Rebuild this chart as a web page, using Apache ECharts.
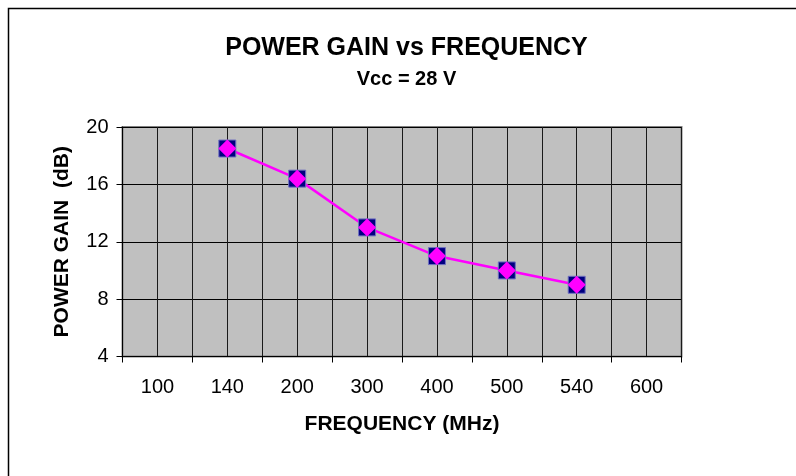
<!DOCTYPE html>
<html>
<head>
<meta charset="utf-8">
<script src="https://cdn.jsdelivr.net/npm/echarts@6/dist/echarts.min.js"></script>
<style>html,body{margin:0;padding:0;background:#fff}#c{width:796px;height:476px}</style>
</head>
<body>
<div id="c"></div>
<script>
const categories = ['100', '140', '200', '300', '400', '500', '540', '600'];
const gainValues = [null, 18.5, 16.4, 13, 11, 10, 9, null];
const yTicks = [4, 8, 12, 16, 20];
const titleText = 'POWER GAIN vs FREQUENCY';
const subtitleText = 'Vcc = 28 V';
const xName = 'FREQUENCY (MHz)';
const yName = 'POWER GAIN  (dB)';

const FONT = '"Liberation Sans", Arial, sans-serif';
const chart = echarts.init(document.getElementById('c'), null, {renderer: 'canvas'});
chart.setOption({
  animation: false,
  backgroundColor: '#ffffff',
  graphic: [
    {type: 'rect', shape: {x: 8.5, y: 8.5, width: 800, height: 480}, style: {fill: 'none', stroke: '#000', lineWidth: 1.5}, silent: true},
    {type: 'text', style: {x: 406.5, y: 48, text: titleText, textAlign: 'center', textVerticalAlign: 'middle', font: 'bold 25px ' + FONT, fill: '#000'}},
    {type: 'text', style: {x: 406.5, y: 79, text: subtitleText, textAlign: 'center', textVerticalAlign: 'middle', font: 'bold 20px ' + FONT, fill: '#000'}}
  ],
  grid: {
    left: 122.5, top: 127, right: 114.5, bottom: 119.5,
    show: true, backgroundColor: '#C0C0C0', borderColor: '#808080', borderWidth: 2
  },
  xAxis: [
    {
      type: 'category', data: categories, boundaryGap: true, position: 'bottom',
      axisLine: {show: true, lineStyle: {color: '#000', width: 1}},
      axisTick: {show: true, length: 6, inside: false, lineStyle: {color: '#000'}},
      axisLabel: {fontFamily: FONT, fontSize: 20, color: '#000', margin: 21},
      splitLine: {show: false},
      name: xName, nameLocation: 'middle', nameGap: 57,
      nameTextStyle: {fontFamily: FONT, fontSize: 21, fontWeight: 'bold', color: '#000'}
    },
    {
      type: 'value', min: 0, max: categories.length * 2, interval: 1, position: 'bottom',
      axisLine: {show: false}, axisTick: {show: false}, axisLabel: {show: false},
      splitLine: {show: true, lineStyle: {color: '#1a1a1a', width: 1}}
    }
  ],
  yAxis: {
    type: 'value', min: yTicks[0], max: yTicks[yTicks.length - 1], interval: yTicks[1] - yTicks[0],
    axisLine: {show: true, lineStyle: {color: '#000', width: 1}},
    axisTick: {show: true, length: 6, lineStyle: {color: '#000'}},
    axisLabel: {fontFamily: FONT, fontSize: 20, color: '#000', margin: 14},
    splitLine: {show: true, lineStyle: {color: '#000', width: 1}},
    name: yName, nameLocation: 'middle', nameGap: 50,
    nameTextStyle: {fontFamily: FONT, fontSize: 21, fontWeight: 'bold', color: '#000'}
  },
  series: [
    {
      type: 'line', data: gainValues, xAxisIndex: 0, connectNulls: false,
      lineStyle: {color: '#FF00FF', width: 2.5},
      symbol: 'none', z: 3
    },
    {
      type: 'scatter', data: gainValues, xAxisIndex: 0,
      symbol: 'rect', symbolSize: 17,
      itemStyle: {color: '#000080', borderColor: '#7070C0', borderWidth: 1, opacity: 1}, z: 4
    },
    {
      type: 'scatter', data: gainValues, xAxisIndex: 0,
      symbol: 'diamond', symbolSize: 18,
      itemStyle: {color: '#FF00FF', opacity: 1}, z: 5
    }
  ]
});
</script>
</body>
</html>
